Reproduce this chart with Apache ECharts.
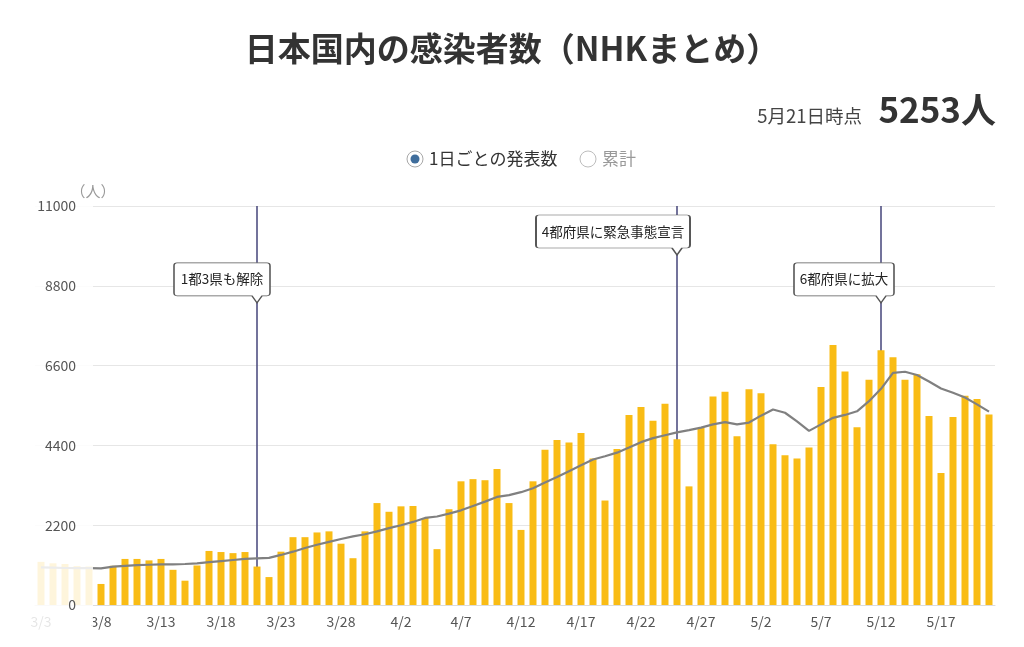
<!DOCTYPE html>
<html><head><meta charset="utf-8">
<script src="https://cdn.jsdelivr.net/npm/echarts@6/dist/echarts.min.js"></script>
<style>html,body{margin:0;padding:0;background:#fff}#c{width:1024px;height:647px}</style>
</head><body><div id="c"></div>
<script>
const dates = [
 '3/3','3/4','3/5','3/6','3/7','3/8','3/9','3/10','3/11','3/12','3/13','3/14','3/15','3/16','3/17','3/18','3/19','3/20','3/21','3/22','3/23','3/24','3/25','3/26','3/27','3/28','3/29','3/30','3/31',
 '4/1','4/2','4/3','4/4','4/5','4/6','4/7','4/8','4/9','4/10','4/11','4/12','4/13','4/14','4/15','4/16','4/17','4/18','4/19','4/20','4/21','4/22','4/23','4/24','4/25','4/26','4/27','4/28','4/29','4/30',
 '5/1','5/2','5/3','5/4','5/5','5/6','5/7','5/8','5/9','5/10','5/11','5/12','5/13','5/14','5/15','5/16','5/17','5/18','5/19','5/20','5/21'
];
const dailyCases = [
 1190,1150,1130,1070,1060,580,1080,1270,1270,1230,1270,970,670,1090,1490,1460,1430,1460,1060,770,1470,1870,1870,2000,2030,1690,1290,2030,2810,
 2570,2720,2730,2400,1540,2640,3410,3470,3440,3750,2810,2070,3410,4280,4550,4480,4740,4040,2880,4300,5240,5460,5080,5550,4570,3270,4880,5750,5880,4650,
 5950,5840,4430,4130,4040,4340,6010,7170,6440,4900,6210,7020,6830,6210,6360,5210,3640,5180,5770,5680,5253
];
const movingAverage = [
 1040,1030,1020,1015,1015,1010,1060,1080,1100,1110,1120,1120,1130,1150,1180,1210,1240,1270,1285,1300,1380,1470,1570,1660,1740,1820,1890,1950,2030,
 2120,2200,2290,2400,2440,2520,2610,2730,2850,2980,3030,3110,3220,3380,3530,3690,3850,4010,4100,4200,4340,4490,4600,4680,4760,4820,4890,4980,5040,4980,
 5030,5220,5390,5300,5060,4800,4980,5160,5240,5340,5620,5960,6400,6430,6340,6160,5970,5850,5720,5530,5330
];
const yMax = 11000;
const yInterval = 2200;
const eventDates = ['3/21','4/25','5/12'];
const eventLabels = ['1都3県も解除','4都府県に緊急事態宣言','6都府県に拡大'];
const eventTipValues = [8330, 9650, 8330];
const titleText = '日本国内の感染者数（NHKまとめ）';
const asOfText = '5月21日時点';
const totalText = '5253人';
const legendItems = ['1日ごとの発表数','累計'];

const FONT = '"Noto Sans CJK JP", "Noto Sans", sans-serif';
const boxWidths = [96, 154, 100];
const boxH = 33, tipH = 7;

function calloutPath(w, h, t, tx) {
  return 'path://M3,0 L' + (w-3) + ',0 Q' + w + ',0 ' + w + ',3 L' + w + ',' + (h-3) +
    ' Q' + w + ',' + h + ' ' + (w-3) + ',' + h + ' L' + (tx+5) + ',' + h + ' L' + tx + ',' + (h+t) +
    ' L' + (tx-5) + ',' + h + ' L3,' + h + ' Q0,' + h + ' 0,' + (h-3) + ' L0,3 Q0,0 3,0 Z';
}

const markPoints = eventDates.map((d, i) => {
  const w = boxWidths[i];
  const tx = w - 13;
  return {
    coord: [d, eventTipValues[i]],
    symbol: calloutPath(w, boxH, tipH, tx),
    symbolSize: [w, boxH + tipH],
    symbolOffset: [w / 2 - tx, -(boxH + tipH) / 2],
    itemStyle: { color: '#fff', borderColor: '#555', borderWidth: 1 },
    label: { show: true, position: 'inside', formatter: eventLabels[i], color: '#222',
             fontSize: 13.5, fontFamily: FONT, offset: [0, -tipH / 2] }
  };
});

const chart = echarts.init(document.getElementById('c'), null, { renderer: 'canvas' });
chart.setOption({
  animation: false,
  backgroundColor: '#fff',
  textStyle: { fontFamily: FONT },
  title: {
    text: titleText, left: 'center', top: 27,
    textStyle: { fontSize: 33, fontWeight: 'bold', color: '#333', fontFamily: FONT }
  },
  grid: { left: 35, right: 29, top: 206, bottom: 42, containLabel: false },
  xAxis: {
    type: 'category', data: dates, boundaryGap: true,
    axisTick: { show: false },
    axisLine: { lineStyle: { color: '#dcdcdc' } },
    axisLabel: { interval: 4, fontSize: 14, color: '#555', margin: 10, fontFamily: FONT }
  },
  yAxis: [{
    type: 'value', min: 0, max: yMax, interval: yInterval, offset: -51, z: 200,
    name: '（人）', nameLocation: 'end', nameGap: 5,
    nameTextStyle: { color: '#999', fontSize: 15, padding: [0, 0, 0, 14], fontFamily: FONT },
    axisLine: { show: false }, axisTick: { show: false }, splitLine: { show: false },
    axisLabel: { fontSize: 14, color: '#555', margin: 10, fontFamily: FONT,
                 formatter: v => String(v) }
  }, {
    type: 'value', min: 0, max: yMax, interval: yInterval,
    axisLine: { show: false }, axisTick: { show: false }, axisLabel: { show: false },
    splitLine: { lineStyle: { color: '#e6e6e6', width: 1 } }
  }],
  series: [{
    name: legendItems[0], type: 'bar', data: dailyCases, barWidth: 7, z: 2,
    itemStyle: { color: '#f9bc15' },
    markLine: {
      z: 1, silent: true, symbol: 'none', animation: false,
      lineStyle: { color: '#44447a', width: 1.5, type: 'solid' },
      label: { show: false },
      data: eventDates.map(d => ({ xAxis: d }))
    }
  }, {
    name: '7日間平均', type: 'line', data: movingAverage, z: 3,
    symbol: 'none', smooth: false,
    lineStyle: { color: '#808080', width: 2.2 },
    markPoint: { z: 10, silent: true, animation: false, data: markPoints }
  }],
  graphic: [
    { type: 'rect', z: 100, silent: true, shape: { x: 0, y: 190, width: 93, height: 457 },
      style: { fill: 'rgba(255,255,255,0.85)' } },
    { type: 'text', z: 100, x: 862, y: 116,
      style: { text: asOfText, font: '18.5px ' + FONT, fill: '#444', align: 'right', verticalAlign: 'middle' } },
    { type: 'text', z: 100, x: 996, y: 110,
      style: { text: totalText, font: 'bold 35px ' + FONT, fill: '#333', align: 'right', verticalAlign: 'middle' } },
    { type: 'circle', z: 100, shape: { cx: 415, cy: 159, r: 8 },
      style: { fill: '#fff', stroke: '#a8a8a8', lineWidth: 1 } },
    { type: 'circle', z: 101, shape: { cx: 415, cy: 159, r: 4.5 },
      style: { fill: '#3f6d9c' } },
    { type: 'text', z: 100, x: 429, y: 159,
      style: { text: legendItems[0], font: '17px ' + FONT, fill: '#333', align: 'left', verticalAlign: 'middle' } },
    { type: 'circle', z: 100, shape: { cx: 588, cy: 159, r: 8 },
      style: { fill: '#fff', stroke: '#bdbdbd', lineWidth: 1 } },
    { type: 'text', z: 100, x: 602, y: 159,
      style: { text: legendItems[1], font: '17px ' + FONT, fill: '#999', align: 'left', verticalAlign: 'middle' } }
  ]
});
</script>
</body></html>
